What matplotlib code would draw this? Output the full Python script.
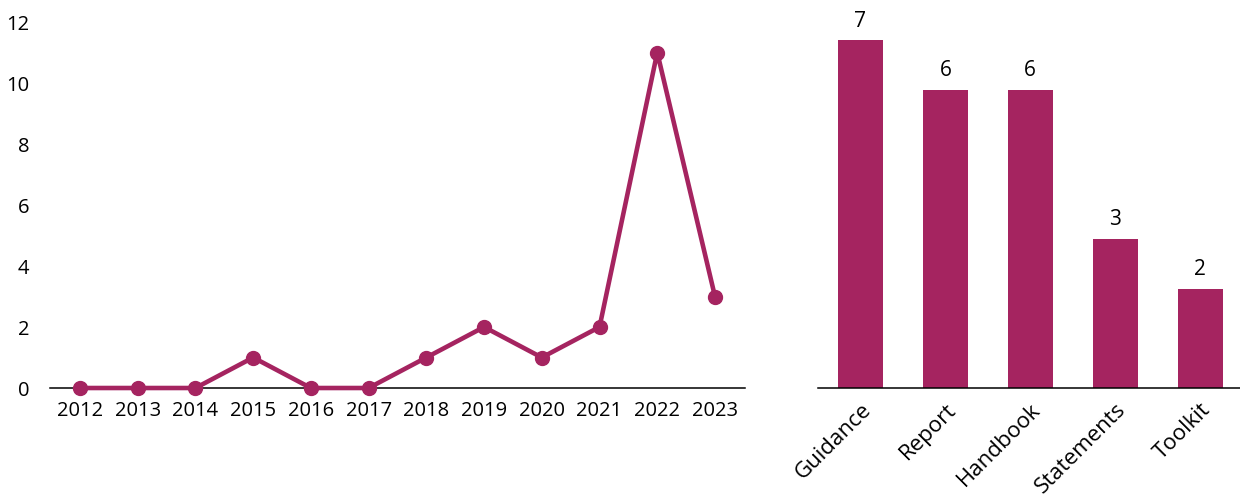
import matplotlib
matplotlib.use("Agg")
import matplotlib.pyplot as plt

plt.rcParams['font.family'] = ['Open Sans', 'DejaVu Sans']

years = [2012, 2013, 2014, 2015, 2016, 2017, 2018, 2019, 2020, 2021, 2022, 2023]
counts = [0, 0, 0, 1, 0, 0, 1, 2, 1, 2, 11, 3]
y_ticks = [0, 2, 4, 6, 8, 10, 12]

doc_types = ["Guidance", "Report", "Handbook", "Statements", "Toolkit"]
doc_counts = [7, 6, 6, 3, 2]

color = "#A52460"
fs = 14.5

fig = plt.figure(figsize=(12.4, 4.97), dpi=100)

# Publications per year
ax1 = fig.add_axes([0.0403, 0.2193, 0.5605, 0.7364])
ax1.plot(years, counts, color=color, lw=3.3, marker='o', markersize=10,
         solid_joinstyle='miter', clip_on=False, zorder=3)
ax1.set_xlim(years[0] - 0.52, years[-1] + 0.52)
ax1.set_ylim(0, 12)
ax1.set_xticks(years)
ax1.set_xticklabels([str(y) for y in years], fontsize=fs)
ax1.set_yticks(y_ticks)
ax1.set_yticklabels([str(t) for t in y_ticks], fontsize=fs)
for s in ['top', 'right', 'left']:
    ax1.spines[s].set_visible(False)
ax1.spines['bottom'].set_linewidth(1.1)
ax1.spines['bottom'].set_zorder(2)
ax1.tick_params(axis='both', length=0)
ax1.tick_params(axis='x', pad=9)
ax1.tick_params(axis='y', pad=15)

# Publications by type
ax2 = fig.add_axes([0.6597, 0.2193, 0.3403, 0.7364])
xpos = list(range(len(doc_types)))
bars = ax2.bar(xpos, doc_counts, width=0.53, color=color, zorder=2)
ax2.set_xlim(-0.5, 4.47)
ax2.set_ylim(0, 7.36)
ax2.set_xticks(xpos)
ax2.set_xticklabels(doc_types, fontsize=16, rotation=45, ha='right',
                    rotation_mode='anchor')
ax2.set_yticks([])
for s in ['top', 'right', 'left']:
    ax2.spines[s].set_visible(False)
ax2.spines['bottom'].set_linewidth(1.1)
ax2.spines['bottom'].set_zorder(3)
ax2.tick_params(axis='x', length=0, pad=8)
for x, v in zip(xpos, doc_counts):
    ax2.annotate(str(v), (x, v), xytext=(0, 6), textcoords='offset points',
                 ha='center', va='bottom', fontsize=15)

fig.savefig("out.png", dpi=100)
